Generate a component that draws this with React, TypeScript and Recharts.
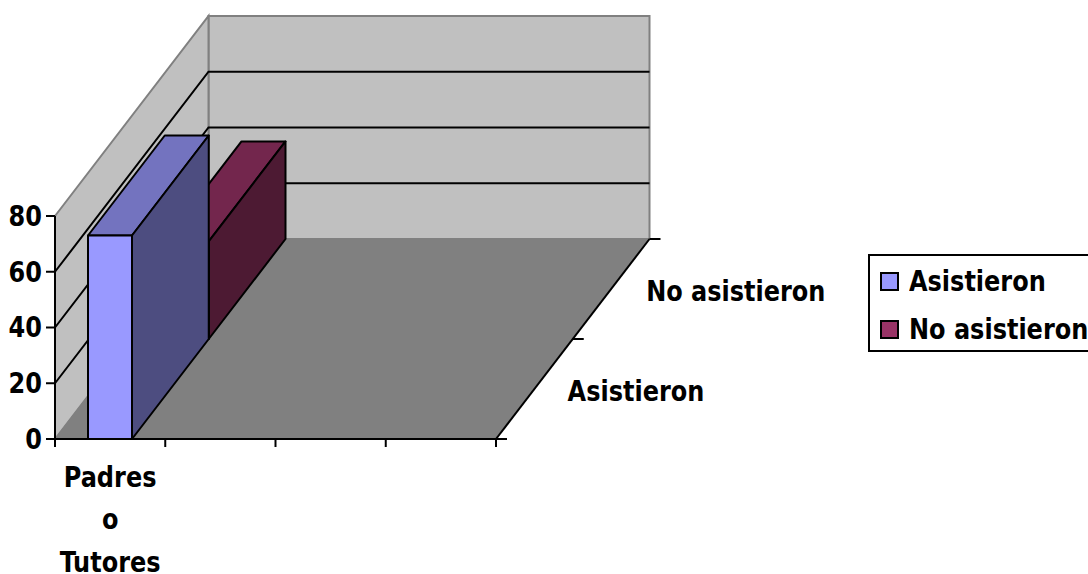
import { Bar, BarChart, CartesianGrid, XAxis, YAxis } from 'recharts';

const categories = ['Padres o Tutores', '', '', ''];
const asistieron = [73, 0, 0, 0];
const noAsistieron = [35, 0, 0, 0];
const yTicks = [0, 20, 40, 60, 80];
const depthLabels = ['Asistieron', 'No asistieron'];
const legendItems = [['Asistieron', '#9999ff'], ['No asistieron', '#993366']];

const data = categories.map((name, i) => ({
  name,
  Asistieron: asistieron[i],
  'No asistieron': noAsistieron[i],
}));

const FONT = '"DejaVu Sans Condensed", "DejaVu Sans", sans-serif';
const FONT_SIZE = 29;
const TEXT_SQUEEZE = 0.92;
// plot box of the front plane; the axes take 1px each out of the chart margin
const LEFT = 55;
const RIGHT = 496;
const TOP = 216;
const BOTTOM = 439;
const MARGIN = { top: TOP, right: 1088 - RIGHT, bottom: 574 - BOTTOM - 1, left: LEFT - 1 };
const BAND = (RIGHT - LEFT) / categories.length;
// oblique offset of the back of the box, per depth row
const ROW_DX = 76.75;
const ROW_DY = -100;

const pts = (p: number[][]) => p.map((q) => q.join(',')).join(' ');

// the original font is narrower and taller than anything installed
function Label({ x, y, anchor, children }: { x: number; y: number; anchor: 'middle' | 'end'; children: any }) {
  return (
    <text transform={`translate(${x} ${y}) scale(${TEXT_SQUEEZE} 1)`} textAnchor={anchor} dominantBaseline="central" fontFamily={FONT} fontWeight="bold" fontSize={FONT_SIZE} fill="#000">
      {children}
    </text>
  );
}

// back wall, side wall, floor and the depth axis
function Box() {
  const dx = ROW_DX * 2;
  const dy = ROW_DY * 2;
  return (
    <g>
      <polygon points={pts([[LEFT + dx, TOP + dy], [RIGHT + dx, TOP + dy], [RIGHT + dx, BOTTOM + dy], [LEFT + dx, BOTTOM + dy]])} fill="#c0c0c0" stroke="#808080" strokeWidth={2} />
      <polygon points={pts([[LEFT, TOP], [LEFT + dx, TOP + dy], [LEFT + dx, BOTTOM + dy], [LEFT, BOTTOM]])} fill="#c0c0c0" stroke="#808080" strokeWidth={2} />
      <polygon points={pts([[LEFT, BOTTOM], [LEFT + dx, BOTTOM + dy], [RIGHT + dx, BOTTOM + dy], [RIGHT, BOTTOM]])} fill="#808080" stroke="#808080" strokeWidth={1} />
      <line x1={RIGHT} y1={BOTTOM} x2={RIGHT + dx} y2={BOTTOM + dy} stroke="#000" strokeWidth={2} />
      {[0, 1, 2].map((i) => (
        <line key={i} x1={RIGHT + ROW_DX * i} y1={BOTTOM + ROW_DY * i} x2={RIGHT + ROW_DX * i + 11} y2={BOTTOM + ROW_DY * i} stroke="#000" strokeWidth={2} />
      ))}
      {depthLabels.map((label, i) => (
        <Label key={label} x={RIGHT + 140 + ROW_DX * i * 1.3} y={BOTTOM - 48 + ROW_DY * i} anchor="middle">
          {label}
        </Label>
      ))}
    </g>
  );
}

function WallLine(props: any) {
  const { x1, y1, x2, index } = props;
  if (index === 0 || index === yTicks.length - 1) return <g />;
  const dx = ROW_DX * 2;
  const dy = ROW_DY * 2;
  return (
    <polyline points={pts([[x1, y1], [x1 + dx, y1 + dy], [x2 + dx, y1 + dy]])} fill="none" stroke="#000" strokeWidth={2} />
  );
}

function XTick(props: any) {
  const { x, y, payload, index } = props;
  const left = x - BAND / 2;
  const words: string[] = payload.value ? payload.value.split(' ') : [];
  return (
    <g>
      <line x1={left} y1={y} x2={left} y2={y + 8} stroke="#000" strokeWidth={2} />
      {index === categories.length - 1 && <line x1={left + BAND} y1={y} x2={left + BAND} y2={y + 8} stroke="#000" strokeWidth={2} />}
      {words.map((w, i) => (
        <Label key={i} x={x} y={y + 38 + i * 42.5} anchor="middle">
          {w}
        </Label>
      ))}
    </g>
  );
}

function YTick(props: any) {
  return (
    <Label x={props.x} y={props.y} anchor="end">
      {props.payload.value}
    </Label>
  );
}

function bar3d(row: number, front: string, top: string, side: string) {
  return (props: any) => {
    const { x, y, width, height } = props;
    if (!height || height <= 0) return <g />;
    const ox = x + ROW_DX * row;
    const oy = y + ROW_DY * row;
    const b = oy + height;
    const r = ox + width;
    return (
      <g stroke="#000" strokeWidth={2} strokeLinejoin="round">
        <polygon points={pts([[ox, oy], [r, oy], [r + ROW_DX, oy + ROW_DY], [ox + ROW_DX, oy + ROW_DY]])} fill={top} />
        <polygon points={pts([[r, oy], [r + ROW_DX, oy + ROW_DY], [r + ROW_DX, b + ROW_DY], [r, b]])} fill={side} />
        <rect x={ox} y={oy} width={width} height={height} fill={front} />
      </g>
    );
  };
}

export default function App() {
  return (
    <div style={{ position: 'absolute', left: 0, top: 0, width: 1088, height: 574, overflow: 'hidden', background: '#fff' }}>
      <BarChart width={1088} height={574} data={data} margin={MARGIN} barSize={44} barGap={-44} barCategoryGap={0}>
        <Box />
        <CartesianGrid zIndex={0} vertical={false} horizontal={(p: any) => <WallLine key={p.index} {...p} />} />
        <XAxis dataKey="name" interval={0} height={1} tickLine={false} tickSize={0} tickMargin={0} tick={<XTick />} axisLine={{ stroke: '#000', strokeWidth: 2 }} />
        <YAxis
          domain={[0, 80]}
          ticks={yTicks}
          width={1}
          interval={0}
          tickSize={9}
          tickMargin={4}
          stroke="#000"
          tickLine={{ stroke: '#000', strokeWidth: 2 }}
          axisLine={{ stroke: '#000', strokeWidth: 2 }}
          tick={<YTick />}
        />
        <Bar dataKey="No asistieron" fill="#993366" isAnimationActive={false} shape={bar3d(1, '#993366', '#73264d', '#4d1a33')} />
        <Bar dataKey="Asistieron" fill="#9999ff" isAnimationActive={false} shape={bar3d(0, '#9999ff', '#7373bf', '#4d4d80')} />
      </BarChart>
      <div style={{ position: 'absolute', left: 868, top: 254, width: 230, height: 93, paddingTop: 1, border: '2px solid #000', fontFamily: FONT, fontWeight: 'bold', fontSize: FONT_SIZE, color: '#000' }}>
        {legendItems.map(([label, color]) => (
          <div key={label} style={{ display: 'flex', alignItems: 'center', height: 48, paddingLeft: 10, whiteSpace: 'nowrap' }}>
            <span style={{ width: 15, height: 15, marginRight: 10, background: color, border: '2px solid #000', flex: 'none' }} />
            <span style={{ display: 'inline-block', transform: `scaleX(${TEXT_SQUEEZE})`, transformOrigin: 'left center' }}>{label}</span>
          </div>
        ))}
      </div>
    </div>
  );
}
